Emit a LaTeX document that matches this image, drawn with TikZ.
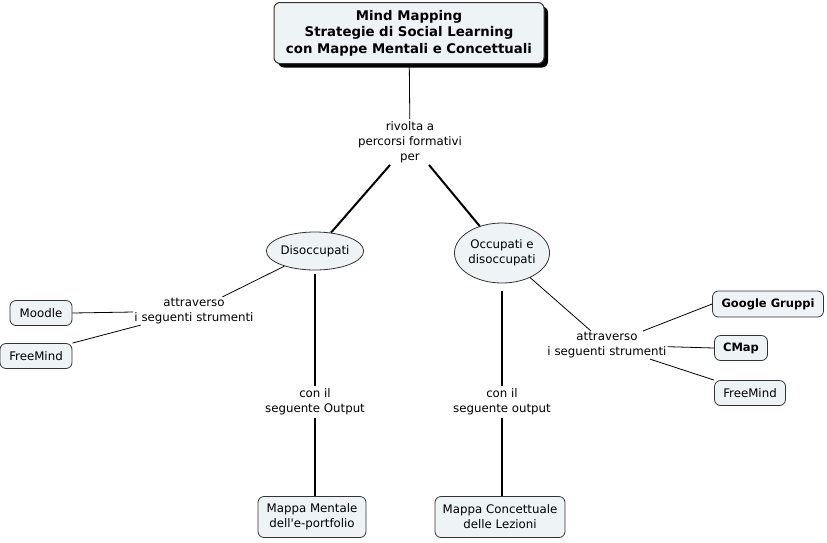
\documentclass[tikz,border=0pt]{standalone}
\usepackage{fontspec}
\setmainfont{DejaVu Sans}
\usetikzlibrary{shapes.geometric,shadows}
\definecolor{boxfill}{HTML}{EEF3F6}
\definecolor{boxdraw}{HTML}{333333}
\begin{document}
\begin{tikzpicture}[x=1pt,y=-1pt,
  every node/.style={font=\fontsize{11.8}{15}\selectfont, align=center},
  concept/.style={draw=boxdraw, fill=boxfill, rounded corners=6pt, line width=0.8pt, inner sep=0pt},
  oval/.style={ellipse, draw=boxdraw, fill=boxfill, line width=0.8pt, inner sep=0pt},
  linklab/.style={inner sep=1pt},
  boldlab/.style={font=\bfseries\fontsize{11.5}{15}\selectfont},
  thin/.style={line width=0.8pt},
  thick/.style={line width=2pt}]
\useasboundingbox (0,0) rectangle (827,542);
\node[concept, minimum width=270pt, minimum height=61pt, line width=1pt,
  drop shadow={shadow xshift=4pt, shadow yshift=-4pt, fill=black, opacity=1},
  font=\bfseries\fontsize{13.3}{16.5}\selectfont] (title) at (409,33)
  {Mind Mapping\\Strategie di Social Learning\\con Mappe Mentali e Concettuali};
\node[linklab, inner sep=2pt] (rivolta) at (410,142) {rivolta a\\percorsi formativi\\per};
\node[oval, minimum width=88pt, minimum height=38pt] (dis) at (315,251) {Disoccupati};
\node[oval, minimum width=95pt, minimum height=60pt] (occ) at (502,253) {Occupati e\\disoccupati};
\node[linklab] (attL) at (194,311) {attraverso\\i seguenti strumenti};
\node[concept, minimum width=62pt, minimum height=25pt] (moodle) at (41,313) {Moodle};
\node[concept, minimum width=72pt, minimum height=25pt] (fmL) at (36,356) {FreeMind};
\node[linklab, inner sep=3pt] (outL) at (315,402) {con il\\seguente Output};
\node[concept, minimum width=108pt, minimum height=41pt] (mm) at (312,517) {Mappa Mentale\\dell\textquotesingle e-portfolio};
\node[linklab, inner sep=3pt] (outR) at (502,402) {con il\\seguente output};
\node[concept, minimum width=130pt, minimum height=41pt] (mc) at (500,517) {Mappa Concettuale\\delle Lezioni};
\node[linklab] (attR) at (607,345) {attraverso\\i seguenti strumenti};
\node[concept, minimum width=111pt, minimum height=26pt, boldlab] (gg) at (768,304) {Google Gruppi};
\node[concept, minimum width=53pt, minimum height=25pt, boldlab] (cmap) at (741,348) {CMap};
\node[concept, minimum width=71pt, minimum height=25pt] (fmR) at (750,393) {FreeMind};

\draw[thin] (title) -- (rivolta);
\draw[thick] (rivolta) -- (dis);
\draw[thick] (rivolta) -- (occ);
\draw[thin] (dis) -- (attL);
\draw[thin] (attL) -- (moodle.east);
\draw[thin] (attL) -- (fmL.north east);
\draw[thick, shorten <=4pt] (dis) -- (outL);
\draw[thick] (outL) -- (outL |- mm.north);
\draw[thick, shorten <=8pt] (occ) -- (outR);
\draw[thick] (outR) -- (outR |- mc.north);
\draw[thin] (occ) -- (attR);
\draw[thin] (attR) -- (gg.west);
\draw[thin] (attR) -- (cmap.west);
\draw[thin] (attR) -- (fmR.north west);
\end{tikzpicture}
\end{document}
